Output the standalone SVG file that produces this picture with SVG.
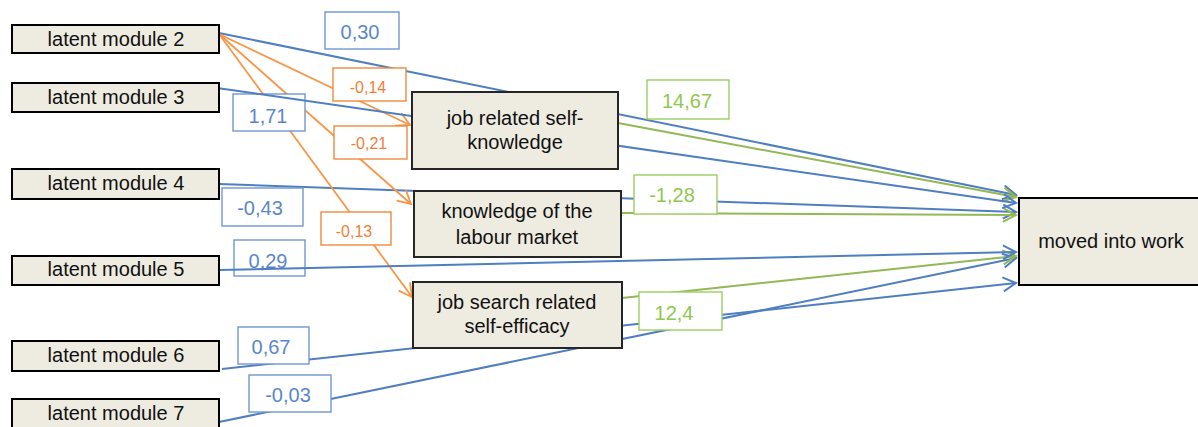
<svg xmlns="http://www.w3.org/2000/svg" width="1198" height="427" viewBox="0 0 1198 427">
  <style>
    .node rect { fill: #eeece1; stroke: #000; stroke-width: 2; }
    .med rect { fill: #eeece1; stroke: #262626; stroke-width: 2; }
    .node text, .med text { font-family: "Liberation Sans", Arial, sans-serif; font-size: 20px; fill: #111; text-anchor: middle; }
    .blue { stroke: #4f7fc0; stroke-width: 2; fill: none; }
    .orange { stroke: #f79646; stroke-width: 1.8; fill: none; }
    .green { stroke: #93b856; stroke-width: 2; fill: none; }
    .lbl rect { fill: #fff; stroke-width: 1.4; }
    .lbl text { font-family: "Liberation Sans", Arial, sans-serif; text-anchor: middle; }
    .lb rect { stroke: #6f96d0; }
    .lb text { fill: #5b87c9; font-size: 20px; }
    .lo rect { stroke: #f08a3c; }
    .lo text { fill: #ef7f35; font-size: 16px; }
    .lg rect { stroke: #9ccf5e; }
    .lg text { fill: #8fc84e; font-size: 20px; }
  </style>
  <defs>
    <marker id="ab" markerUnits="userSpaceOnUse" markerWidth="16" markerHeight="18" refX="14" refY="8" orient="auto">
      <path d="M1,1 L14,8 L1,15" fill="none" stroke="#4f7fc0" stroke-width="2"/>
    </marker>
    <marker id="ao" markerUnits="userSpaceOnUse" markerWidth="16" markerHeight="18" refX="14" refY="8" orient="auto">
      <path d="M1,1 L14,8 L1,15" fill="none" stroke="#f79646" stroke-width="1.8"/>
    </marker>
    <marker id="ag" markerUnits="userSpaceOnUse" markerWidth="16" markerHeight="18" refX="14" refY="8" orient="auto">
      <path d="M1,1 L14,8 L1,15" fill="none" stroke="#93b856" stroke-width="2"/>
    </marker>
  </defs>

  <!-- paths -->
  <g id="connectors">
    <!-- direct effects on the outcome -->
    <line class="blue" x1="219" y1="33" x2="1016" y2="195" marker-end="url(#ab)"/>
    <line class="blue" x1="219" y1="184" x2="1016" y2="212" marker-end="url(#ab)"/>
    <line class="blue" x1="222" y1="369" x2="1016" y2="283" marker-end="url(#ab)"/>
    <line class="blue" x1="219" y1="422" x2="1016" y2="258" marker-end="url(#ab)"/>
    <!-- module 2 to the mediators -->
    <line class="orange" x1="219" y1="34" x2="410" y2="125" marker-end="url(#ao)"/>
    <line class="orange" x1="219" y1="34" x2="411" y2="204" marker-end="url(#ao)"/>
    <line class="orange" x1="219" y1="34" x2="412" y2="297" marker-end="url(#ao)"/>
    <!-- mediators to the outcome -->
    <line class="green" x1="618" y1="123" x2="1016" y2="197" marker-end="url(#ag)"/>
    <line class="green" x1="621" y1="213" x2="1016" y2="215" marker-end="url(#ag)"/>
    <line class="green" x1="622" y1="298" x2="1016" y2="256" marker-end="url(#ag)"/>
  </g>

  <!-- path coefficients -->
  <g id="labels">
    <g class="lbl lb"><rect x="325" y="12" width="74" height="37"/><text x="360" y="39">0,30</text></g>
    <g class="lbl lo"><rect x="333" y="68" width="73" height="33"/><text x="368" y="93">-0,14</text></g>
    <g class="lbl lb"><rect x="233" y="94" width="72" height="37"/><text x="268" y="123">1,71</text></g>
    <g class="lbl lo"><rect x="334" y="126" width="73" height="33"/><text x="369" y="149">-0,21</text></g>
    <g class="lbl lb"><rect x="222" y="188" width="81" height="38"/><text x="260" y="215">-0,43</text></g>
    <g class="lbl lo"><rect x="321" y="212" width="70" height="33"/><text x="354" y="237">-0,13</text></g>
    <g class="lbl lb"><rect x="238" y="327" width="71" height="37"/><text x="271" y="354">0,67</text></g>
    <g class="lbl lb"><rect x="249" y="375" width="82" height="37"/><text x="288" y="402">-0,03</text></g>
    <g class="lbl lg"><rect x="647" y="80" width="82" height="39"/><text x="687" y="108">14,67</text></g>
    <g class="lbl lg"><rect x="634" y="175" width="83" height="39"/><text x="672" y="202">-1,28</text></g>
    <g class="lbl lg"><rect x="639" y="292" width="83" height="38"/><text x="674" y="320">12,4</text></g>
    <g class="lbl lb"><rect x="234" y="240" width="71" height="36" style="fill:none"/><text x="268" y="268">0,29</text></g>
  </g>

  <!-- paths that run across their coefficient boxes -->
  <g id="connectors-over">
    <line class="blue" x1="217" y1="88" x2="1016" y2="203" marker-end="url(#ab)"/>
    <line class="blue" x1="219" y1="270" x2="1016" y2="252" marker-end="url(#ab)"/>
  </g>

  <!-- latent modules -->
  <g id="module2" class="node"><rect x="12" y="25" width="207" height="28"/><text x="116" y="46">latent module 2</text></g>
  <g id="module3" class="node"><rect x="12" y="83" width="207" height="29"/><text x="116" y="104">latent module 3</text></g>
  <g id="module4" class="node"><rect x="12" y="169" width="207" height="30"/><text x="116" y="190">latent module 4</text></g>
  <g id="module5" class="node"><rect x="12" y="256" width="207" height="29"/><text x="116" y="276">latent module 5</text></g>
  <g id="module6" class="node"><rect x="12" y="341" width="207" height="30"/><text x="116" y="362">latent module 6</text></g>
  <g id="module7" class="node"><rect x="12" y="399" width="207" height="30"/><text x="116" y="420">latent module 7</text></g>

  <!-- mediators -->
  <g id="selfknowledge" class="med"><rect x="412" y="92" width="206" height="77"/><text x="515" y="125">job related self-</text><text x="515" y="149">knowledge</text></g>
  <g id="labourmarket" class="med"><rect x="414" y="191" width="207" height="66"/><text x="517" y="218">knowledge of the</text><text x="517" y="244">labour market</text></g>
  <g id="selfefficacy" class="med"><rect x="413" y="282" width="209" height="66"/><text x="517" y="309">job search related</text><text x="517" y="333">self-efficacy</text></g>

  <!-- outcome -->
  <g id="outcome" class="node"><rect x="1019" y="198" width="186" height="87"/><text x="1111" y="248">moved into work</text></g>
</svg>
